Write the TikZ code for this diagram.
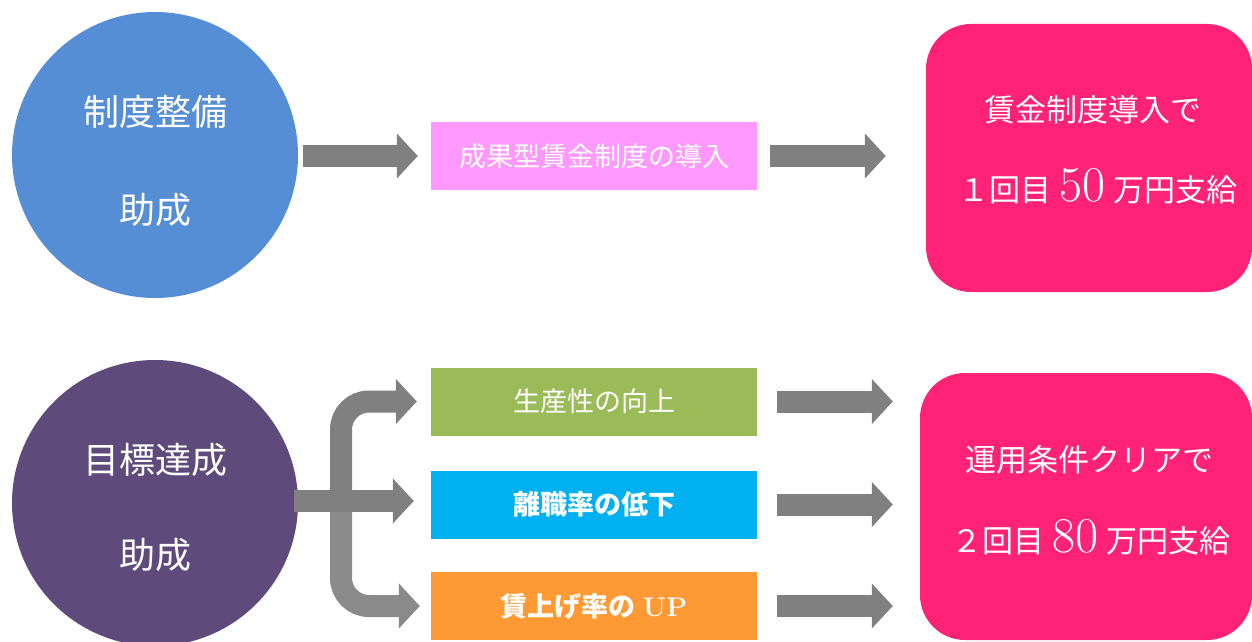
\documentclass[tikz,border=0pt]{standalone}
\usepackage{fontspec}
\newfontfamily\cjk{Noto Sans CJK JP}
\usetikzlibrary{arrows.meta}
\definecolor{cblue}{HTML}{558ED5}
\definecolor{cpurple}{HTML}{5F4B7B}
\definecolor{cpink}{HTML}{FF99FF}
\definecolor{cgreen}{HTML}{9BBB59}
\definecolor{ccyan}{HTML}{00B0F0}
\definecolor{corange}{HTML}{FF9933}
\definecolor{cmag}{HTML}{FF2277}
\definecolor{agray}{HTML}{808080}
\tikzset{
  circ/.style={circle,fill=#1,minimum size=286pt,inner sep=0pt},
  ctext/.style={text=white,inner sep=0pt,font=\cjk\fontsize{36}{36}\selectfont},
  midbox/.style={rectangle,fill=#1,minimum width=326pt,minimum height=68pt,inner sep=0pt,text=white,font=\cjk\fontsize{27}{27}\selectfont},
  resbox/.style={rectangle,rounded corners=45pt,fill=cmag,inner sep=0pt,text=white},
  bigarrow/.style={draw=agray,line width=22pt,-{Triangle[length=21pt,width=44pt]}},
  lbl/.style={text=white,inner sep=0pt,font=\cjk\fontsize{31}{31}\selectfont},
}
\begin{document}
\begin{tikzpicture}[x=1pt,y=-1pt]
\useasboundingbox (0,0) rectangle (1252,642);
\clip (0,0) rectangle (1252,642);
% circles
\node[circ=cblue] (c1) at (155,155) {};
\node[circ=cpurple] (c2) at (155,503) {};
\node[ctext] (c1a) at (155,112) {制度整備};
\node[ctext] (c1b) at (155,210) {助成};
\node[ctext] (c2a) at (155,460) {目標達成};
\node[ctext] (c2b) at (155,555) {助成};
% middle boxes
\node[midbox=cpink] (b1) at (594,156) {成果型賃金制度の導入};
\node[midbox=cgreen] (b2) at (594,401.5) {生産性の向上};
\node[midbox=ccyan] (b3) at (594,504.5) {\textbf{離職率の低下}};
\node[midbox=corange] (b4) at (594,606) {\textbf{賃上げ率の}\hspace{7pt}{\rmfamily\bfseries UP}};
% result boxes
\node[resbox,minimum width=326pt,minimum height=268pt] (r1) at (1089,158) {};
\node[resbox,minimum width=332pt,minimum height=267pt] (r2) at (1086,506.5) {};
\node[lbl] (r1a) at (1093,110) {賃金制度導入で};
\node[lbl,anchor=base] (r1b) at (1098,201) {１回目\hspace{8pt}{\rmfamily\fontsize{50}{50}\selectfont 50}\hspace{8pt}万円支給};
\node[lbl] (r2a) at (1089,460) {運用条件クリアで};
\node[lbl,anchor=base] (r2b) at (1091,552) {２回目\hspace{8pt}{\rmfamily\fontsize{50}{50}\selectfont 80}\hspace{8pt}万円支給};
% arrows top
\draw[bigarrow] ([xshift=5pt]c1.east |- b1.west) -- ([xshift=-13pt]b1.west);
\draw[bigarrow] ([xshift=13pt]b1.east) -- ([xshift=-40pt]r1.west |- b1.east);
% right arrows bottom
\draw[bigarrow] ([xshift=20pt]b2.east) -- ([xshift=-27pt]r2.west |- b2.east);
\draw[bigarrow] ([xshift=20pt]b3.east) -- ([xshift=-27pt]r2.west |- b3.east);
\draw[bigarrow] ([xshift=20pt]b4.east) -- ([xshift=-27pt]r2.west |- b4.east);
% branch
\coordinate (j) at (341,501);
\draw[bigarrow,rounded corners=28pt] (j) -- (j |- b2.west) -- ([xshift=-14pt]b2.west);
\draw[bigarrow,draw=agray!92,rounded corners=28pt] (j) -- (j |- b4.west) -- ([xshift=-11pt]b4.west);
\draw[bigarrow] ([xshift=-4pt]c2.east |- j) -- ([xshift=-17pt]b3.west |- j);
\end{tikzpicture}
\end{document}
